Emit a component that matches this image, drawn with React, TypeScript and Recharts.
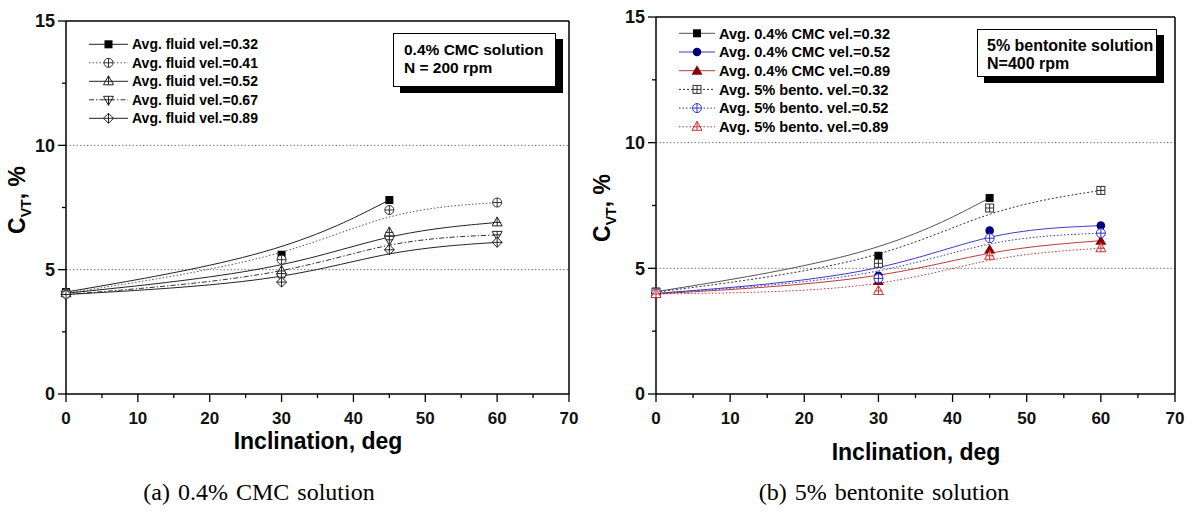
import React from "react";
import { LineChart, Line, XAxis, YAxis, ReferenceLine } from "recharts";

// inclination angles (deg) where C_VT was measured
const inclination = [0, 30, 45, 60];
const xTicks = [0, 5, 10, 15, 20, 25, 30, 35, 40, 45, 50, 55, 60, 65, 70];
const yTicks = [0, 2.5, 5, 7.5, 10, 12.5, 15];

// (a) 0.4% CMC solution, N = 200 rpm
const cmcVel032 = [4.1, 5.6, 7.8];
const cmcVel041 = [4.05, 5.4, 7.4, 7.7];
const cmcVel052 = [4.05, 4.95, 6.5, 6.9];
const cmcVel067 = [4.0, 4.7, 6.2, 6.4];
const cmcVel089 = [4.0, 4.5, 5.8, 6.1];

// (b) 5% bentonite solution, N = 400 rpm
const bCmcVel032 = [4.07, 5.5, 7.8];
const bCmcVel052 = [4.0, 4.7, 6.5, 6.7];
const bCmcVel089 = [3.98, 4.5, 5.75, 6.1];
const bentoVel032 = [4.05, 5.2, 7.4, 8.1];
const bentoVel052 = [4.0, 4.6, 6.2, 6.4];
const bentoVel089 = [3.98, 4.1, 5.5, 5.8];

const toPoints = (vals: number[]) =>
  vals.map((v, i) => ({ x: inclination[i], y: v }));

type Series = {
  name: string;
  values: number[];
  stroke: string;
  dash?: string;
  shape: string;
  color: string;
};

const leftSeries: Series[] = [
  { name: "Avg. fluid vel.=0.32", values: cmcVel032, stroke: "#222", shape: "square", color: "#000" },
  { name: "Avg. fluid vel.=0.41", values: cmcVel041, stroke: "#555", dash: "1.5 2", shape: "circlePlus", color: "#333" },
  { name: "Avg. fluid vel.=0.52", values: cmcVel052, stroke: "#222", shape: "triUpPlus", color: "#222" },
  { name: "Avg. fluid vel.=0.67", values: cmcVel067, stroke: "#333", dash: "5 2 1.5 2", shape: "triDownPlus", color: "#222" },
  { name: "Avg. fluid vel.=0.89", values: cmcVel089, stroke: "#222", shape: "diamondPlus", color: "#222" },
];

const rightSeries: Series[] = [
  { name: "Avg. 0.4% CMC vel.=0.32", values: bCmcVel032, stroke: "#555", shape: "square", color: "#000" },
  { name: "Avg. 0.4% CMC vel.=0.52", values: bCmcVel052, stroke: "#3a3ac8", shape: "circle", color: "#00007a" },
  { name: "Avg. 0.4% CMC vel.=0.89", values: bCmcVel089, stroke: "#b83a3a", shape: "triangle", color: "#8a0000" },
  { name: "Avg. 5% bento. vel.=0.32", values: bentoVel032, stroke: "#333", dash: "2 2", shape: "squarePlus", color: "#333" },
  { name: "Avg. 5% bento. vel.=0.52", values: bentoVel052, stroke: "#3333cc", dash: "1.5 2", shape: "circlePlus", color: "#3333cc" },
  { name: "Avg. 5% bento. vel.=0.89", values: bentoVel089, stroke: "#cc3333", dash: "1.5 2", shape: "triUpPlus", color: "#cc3333" },
];

function Marker({ cx, cy, shape, color }: { cx: number; cy: number; shape: string; color: string }) {
  const sw = 1;
  switch (shape) {
    case "square":
      return <rect x={cx - 4} y={cy - 4} width={8} height={8} fill={color} />;
    case "circle":
      return <circle cx={cx} cy={cy} r={4.3} fill={color} />;
    case "triangle":
      return <polygon points={`${cx},${cy - 5.5} ${cx - 5.5},${cy + 4} ${cx + 5.5},${cy + 4}`} fill={color} />;
    case "squarePlus":
      return (
        <g stroke={color} strokeWidth={sw} fill="#fff">
          <rect x={cx - 4} y={cy - 4} width={8} height={8} />
          <line x1={cx - 4} x2={cx + 4} y1={cy} y2={cy} />
          <line x1={cx} x2={cx} y1={cy - 4} y2={cy + 4} />
        </g>
      );
    case "circlePlus":
      return (
        <g stroke={color} strokeWidth={sw} fill="#fff">
          <circle cx={cx} cy={cy} r={4.5} />
          <line x1={cx - 4.5} x2={cx + 4.5} y1={cy} y2={cy} />
          <line x1={cx} x2={cx} y1={cy - 4.5} y2={cy + 4.5} />
        </g>
      );
    case "triUpPlus":
      return (
        <g stroke={color} strokeWidth={sw} fill="#fff">
          <polygon points={`${cx},${cy - 5.5} ${cx - 5},${cy + 3.5} ${cx + 5},${cy + 3.5}`} />
          <line x1={cx - 4} x2={cx + 4} y1={cy} y2={cy} />
          <line x1={cx} x2={cx} y1={cy - 5.5} y2={cy + 3.5} />
        </g>
      );
    case "triDownPlus":
      return (
        <g stroke={color} strokeWidth={sw} fill="#fff">
          <polygon points={`${cx},${cy + 5.5} ${cx - 5},${cy - 3.5} ${cx + 5},${cy - 3.5}`} />
          <line x1={cx - 4} x2={cx + 4} y1={cy} y2={cy} />
          <line x1={cx} x2={cx} y1={cy + 5.5} y2={cy - 3.5} />
        </g>
      );
    case "diamondPlus":
      return (
        <g stroke={color} strokeWidth={sw} fill="#fff">
          <polygon points={`${cx},${cy - 5} ${cx + 5},${cy} ${cx},${cy + 5} ${cx - 5},${cy}`} />
          <line x1={cx - 5} x2={cx + 5} y1={cy} y2={cy} />
          <line x1={cx} x2={cx} y1={cy - 5} y2={cy + 5} />
        </g>
      );
    default:
      return null;
  }
}

const tickFont = { fontFamily: "'Liberation Sans', Arial, sans-serif", fontWeight: 700 };

const YTick = (props: any) => {
  const { x, y, payload } = props;
  const major = payload.value % 5 === 0;
  const len = major ? 8 : 4;
  return (
    <g>
      <line x1={x - len} x2={x} y1={y} y2={y} stroke="#000" strokeWidth={1.3} />
      {major && (
        <text x={x - len - 3} y={y} dy="0.36em" textAnchor="end" fontSize={18} fill="#111" style={tickFont}>
          {payload.value}
        </text>
      )}
    </g>
  );
};

const XTick = (props: any) => {
  const { x, y, payload } = props;
  const major = payload.value % 10 === 0;
  const len = major ? 8 : 4;
  return (
    <g>
      <line x1={x} x2={x} y1={y} y2={y + len} stroke="#000" strokeWidth={1.3} />
      {major && (
        <text x={x} y={y + 18} dy="0.72em" textAnchor="middle" fontSize={17} fill="#111" style={tickFont}>
          {payload.value}
        </text>
      )}
    </g>
  );
};

function Panel({ series, width, margin }: { series: Series[]; width: number; margin: any }) {
  return (
    <LineChart width={width} height={480} margin={margin}>
      <XAxis
        dataKey="x"
        type="number"
        domain={[0, 70]}
        ticks={xTicks}
        interval={0}
        height={30}
        tickSize={0}
        tickMargin={0}
        tickLine={false}
        tick={<XTick />}
        axisLine={{ stroke: "#000", strokeWidth: 1.5 }}
        allowDuplicatedCategory={false}
      />
      <YAxis
        type="number"
        domain={[0, 15]}
        ticks={yTicks}
        interval={0}
        width={50}
        tickSize={0}
        tickMargin={0}
        tickLine={false}
        tick={<YTick />}
        axisLine={{ stroke: "#000", strokeWidth: 1.5 }}
      />
      <ReferenceLine y={5} stroke="#777" strokeDasharray="1.5 2" />
      <ReferenceLine y={10} stroke="#777" strokeDasharray="1.5 2" />
      <ReferenceLine y={15} stroke="#000" strokeWidth={1.5} />
      <ReferenceLine x={70} stroke="#000" strokeWidth={1.5} />
      {series.map((s) => (
        <Line
          key={s.name}
          data={toPoints(s.values)}
          dataKey="y"
          name={s.name}
          type="basis"
          stroke={s.stroke}
          strokeWidth={1}
          strokeDasharray={s.dash}
          isAnimationActive={false}
          dot={(p: any) => (
            <Marker key={`${s.name}-${p.index}`} cx={p.cx} cy={p.cy} shape={s.shape} color={s.color} />
          )}
          activeDot={false}
        />
      ))}
    </LineChart>
  );
}

function LegendOverlay({ series, x0, y0, step, lineLen, fontSize }: { series: Series[]; x0: number; y0: number; step: number; lineLen: number; fontSize: number }) {
  return (
    <svg width={1192} height={514} style={{ position: "absolute", left: 0, top: 0, pointerEvents: "none" }}>
      {series.map((s, i) => {
        const y = y0 + i * step;
        return (
          <g key={s.name}>
            <line x1={x0} x2={x0 + lineLen} y1={y} y2={y} stroke={s.stroke} strokeWidth={1} strokeDasharray={s.dash} />
            <Marker cx={x0 + lineLen / 2} cy={y} shape={s.shape} color={s.color} />
            <text x={x0 + lineLen + 4} y={y} dy="0.36em" fontSize={fontSize} fill="#000" style={tickFont}>
              {s.name}
            </text>
          </g>
        );
      })}
    </svg>
  );
}

const sans = "'Liberation Sans', Arial, sans-serif";
const serif = "'Liberation Serif', 'DejaVu Serif', serif";

const boxStyle: React.CSSProperties = {
  position: "absolute",
  border: "1px solid #000",
  background: "#fff",
  boxShadow: "7px 6px 0 #000",
  fontFamily: sans,
  fontWeight: 700,
  fontSize: 15.5,
  lineHeight: "18px",
  boxSizing: "border-box",
  whiteSpace: "nowrap",
};

const yTitle = (left: number, top: number) => (
  <div
    style={{
      position: "absolute",
      left,
      top,
      transform: "translate(-50%, -50%) rotate(-90deg)",
      fontFamily: sans,
      fontWeight: 700,
      fontSize: 23,
      whiteSpace: "nowrap",
    }}
  >
    C<sub style={{ fontSize: 14 }}>VT</sub>, %
  </div>
);

const xTitle = (left: number, top: number) => (
  <div
    style={{
      position: "absolute",
      left,
      top,
      transform: "translate(-50%, -50%)",
      fontFamily: sans,
      fontWeight: 700,
      fontSize: 23,
      whiteSpace: "nowrap",
    }}
  >
    Inclination, deg
  </div>
);

const caption = (left: number, text: string) => (
  <div
    style={{
      position: "absolute",
      left,
      top: 492,
      transform: "translate(-50%, -50%)",
      fontFamily: serif,
      fontSize: 24,
      wordSpacing: 2,
      whiteSpace: "nowrap",
    }}
  >
    {text}
  </div>
);

export default function App() {
  return (
    <div style={{ position: "absolute", left: 0, top: 0, width: 1192, height: 514, background: "#fff", overflow: "hidden" }}>
      <div style={{ position: "absolute", left: 0, top: 0 }}>
        <Panel series={leftSeries} width={600} margin={{ top: 21, right: 31, left: 16, bottom: 56 }} />
      </div>
      <div style={{ position: "absolute", left: 590, top: 0 }}>
        <Panel series={rightSeries} width={602} margin={{ top: 17, right: 17, left: 16, bottom: 56 }} />
      </div>

      <LegendOverlay series={leftSeries} x0={89} y0={44.3} step={18.5} lineLen={39} fontSize={14} />
      <LegendOverlay series={rightSeries} x0={679} y0={33.3} step={18.7} lineLen={36} fontSize={14.6} />

      <div style={{ ...boxStyle, left: 393, top: 33, width: 163, height: 54, padding: "7px 0 0 10px" }}>
        0.4% CMC solution
        <br />N = 200 rpm
      </div>
      <div style={{ ...boxStyle, left: 977, top: 29, width: 180, height: 48, padding: "7px 0 0 9px", fontSize: 16 }}>
        5% bentonite solution
        <br />N=400 rpm
      </div>

      {yTitle(19, 200)}
      {yTitle(604, 208)}
      {xTitle(318, 441)}
      {xTitle(916, 452)}
      {caption(259, "(a) 0.4% CMC solution")}
      {caption(884, "(b) 5% bentonite solution")}
    </div>
  );
}
